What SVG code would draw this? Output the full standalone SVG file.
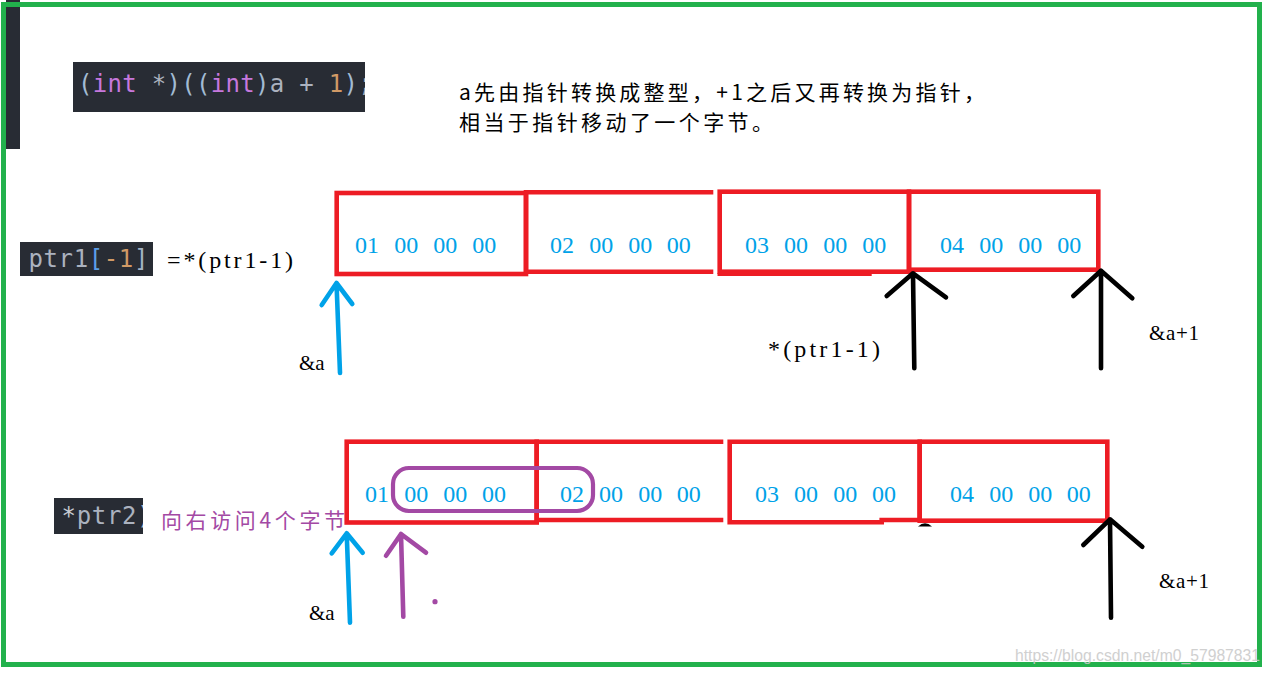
<svg xmlns="http://www.w3.org/2000/svg" width="1270" height="676" viewBox="0 0 1270 676">
<style>
.code{font-family:"DejaVu Sans Mono","Liberation Mono",monospace;font-size:24px}
.cjk{font-family:"Noto Sans CJK SC","Noto Sans CJK JP",sans-serif}
.serif{font-family:"Liberation Serif","DejaVu Serif",serif;fill:#000}
.hex{font-family:"Liberation Serif","DejaVu Serif",serif;font-size:24px;fill:#00a2e8}
.mem{fill:none;stroke:#ed1c24;stroke-width:4.6}
.arr{fill:none;stroke-width:4.6;stroke-linecap:round;stroke-linejoin:round}
.blue{stroke:#00a2e8}
.black{stroke:#000}
.purple{stroke:#a349a4}
</style>
<defs>
<clipPath id="clip1"><rect x="73" y="62" width="292" height="50"/></clipPath>
<clipPath id="clip2"><rect x="20" y="242" width="133" height="34"/></clipPath>
<clipPath id="clip3"><rect x="54" y="498" width="89" height="36"/></clipPath>
</defs>
<rect x="0" y="0" width="1270" height="676" fill="#fff"/>
<rect x="6" y="0" width="14" height="149" fill="#282c34"/>
<rect id="frame" x="3.5" y="4.5" width="1256" height="660" fill="none" stroke="#22b14c" stroke-width="5"/>

<g id="code-cast">
<rect x="73" y="62" width="292" height="50" fill="#282c34"/>
<text class="code" x="78" y="92" font-size="24.4" letter-spacing="0.3" clip-path="url(#clip1)"><tspan fill="#a2bbd3">(</tspan><tspan fill="#c678dd">int</tspan><tspan fill="#abb2bf"> *</tspan><tspan fill="#a2bbd3">)((</tspan><tspan fill="#c678dd">int</tspan><tspan fill="#a2bbd3">)</tspan><tspan fill="#abb2bf">a + </tspan><tspan fill="#d19a66">1</tspan><tspan fill="#a2bbd3">)</tspan><tspan fill="#abb2bf">;</tspan></text>
</g>

<g id="note">
<text class="cjk" font-size="21" fill="#000" x="459" y="100" textLength="526" lengthAdjust="spacing">a先由指针转换成整型，+1之后又再转换为指针，</text>
<text class="cjk" font-size="21" fill="#000" x="459" y="130" textLength="314" lengthAdjust="spacing">相当于指针移动了一个字节。</text>
</g>

<g id="code-ptr1">
<rect x="20" y="242" width="133" height="34" fill="#282c34"/>
<text class="code" x="28.5" y="267" letter-spacing="0.6" clip-path="url(#clip2)"><tspan fill="#abb2bf">ptr1</tspan><tspan fill="#5c9ee8">[</tspan><tspan fill="#d19a66">-1</tspan><tspan fill="#a2b2c4">]</tspan><tspan fill="#abb2bf">,</tspan></text>
</g>
<g id="label-eq">
<text class="serif" x="167" y="268" font-size="24" textLength="126" lengthAdjust="spacing">=*(ptr1-1)</text>
</g>

<g id="code-ptr2">
<rect x="54" y="498" width="89" height="36" fill="#282c34"/>
<text class="code" x="61.5" y="524" letter-spacing="0.7" clip-path="url(#clip3)"><tspan fill="#c8ccd4">*</tspan><tspan fill="#abb2bf">ptr2</tspan><tspan fill="#a2bbd3">)</tspan></text>
</g>
<g id="label-right4">
<text class="cjk" x="161" y="528" font-size="21" fill="#a349a4" textLength="184" lengthAdjust="spacing">向右访问4个字节</text>
</g>

<g id="row1-box1">
<rect class="mem" x="336.7" y="193" width="189.3" height="81"/>
<text class="hex" y="252.7"><tspan x="355">01</tspan><tspan x="394.3">00</tspan><tspan x="433.3">00</tspan><tspan x="472.3">00</tspan></text>
</g>
<g id="row1-box2">
<path class="mem" d="M713.3,192.3 H526 V271.7 H713.3"/>
<text class="hex" y="252.7"><tspan x="550">02</tspan><tspan x="589.3">00</tspan><tspan x="628.3">00</tspan><tspan x="666.7">00</tspan></text>
</g>
<g id="row1-box3">
<rect class="mem" x="719.7" y="191.7" width="189.3" height="80"/>
<line x1="717.5" y1="274.5" x2="871.7" y2="274.5" stroke="#ed1c24" stroke-width="3"/>
<text class="hex" y="252.7"><tspan x="745">03</tspan><tspan x="784">00</tspan><tspan x="823.3">00</tspan><tspan x="862.3">00</tspan></text>
</g>
<g id="row1-box4">
<rect class="mem" x="909" y="191.7" width="189.3" height="78"/>
<text class="hex" y="252.7"><tspan x="940">04</tspan><tspan x="979.3">00</tspan><tspan x="1018.3">00</tspan><tspan x="1057.3">00</tspan></text>
</g>

<g id="row2-box1">
<rect class="mem" x="346.7" y="441.7" width="190" height="80.8"/>
<text class="hex" y="501.7"><tspan x="365">01</tspan><tspan x="404.3">00</tspan><tspan x="443.3">00</tspan><tspan x="482">00</tspan></text>
</g>
<g id="row2-box2">
<path class="mem" d="M723.3,441.7 H536.7 V520 H723.3"/>
<text class="hex" y="501.7"><tspan x="560">02</tspan><tspan x="599">00</tspan><tspan x="638.3">00</tspan><tspan x="676.7">00</tspan></text>
</g>
<g id="row2-box3">
<path class="mem" d="M881.7,522.3 H729.7 V441.7 H919.7 V520 H881.7 Z"/>
<text class="hex" y="501.7"><tspan x="755">03</tspan><tspan x="794">00</tspan><tspan x="833.3">00</tspan><tspan x="872">00</tspan></text>
</g>
<g id="row2-box4">
<rect class="mem" x="919.7" y="441.7" width="187.6" height="79"/>
<text class="hex" y="501.7"><tspan x="950">04</tspan><tspan x="989.3">00</tspan><tspan x="1028.3">00</tspan><tspan x="1066.7">00</tspan></text>
</g>
<path d="M918,526.5 Q925,520 932,526.5 Z" fill="#000"/>

<g id="bytes-group">
<rect x="393" y="468" width="200" height="43" rx="16" ry="16" fill="none" stroke="#a349a4" stroke-width="4.2"/>
</g>

<g id="connectors">
<path class="arr blue" d="M340,373 L336.5,283 M321.7,305 L336.5,283 L352.3,304"/>
<path class="arr blue" d="M350,622.7 L346.7,533.3 M331.7,553.3 L346.7,533.3 L362.7,552.7"/>
<path class="arr purple" d="M403.3,616.7 L401,534 M386,555.7 L401,534 L426,552.7"/>
<path class="arr black" d="M914.3,368.3 L913,273.3 M886.7,296 L913,273.3 L946,297.3"/>
<path class="arr black" d="M1101,368.3 L1101,270.7 M1073.3,296 L1101,270.7 L1132.3,298.3"/>
<path class="arr black" d="M1111,617.7 L1110,519.3 M1083.3,545 L1110,519.3 L1142.3,546.7"/>
</g>
<circle cx="435" cy="601.7" r="2.6" fill="#a349a4"/>

<g id="labels">
<text class="serif" x="299" y="370" font-size="21">&amp;a</text>
<text class="serif" x="309" y="620" font-size="21">&amp;a</text>
<text class="serif" x="1149" y="340" font-size="21" textLength="50" lengthAdjust="spacing">&amp;a+1</text>
<text class="serif" x="1159" y="588.3" font-size="21" textLength="50" lengthAdjust="spacing">&amp;a+1</text>
<text class="serif" x="768" y="357" font-size="24" textLength="112" lengthAdjust="spacing">*(ptr1-1)</text>
</g>

<text x="1015" y="661" font-family="Liberation Sans, Arial, sans-serif" font-size="16" fill="#c8c8c8" opacity="0.85" textLength="245" lengthAdjust="spacingAndGlyphs">https://blog.csdn.net/m0_57987831</text>
</svg>
